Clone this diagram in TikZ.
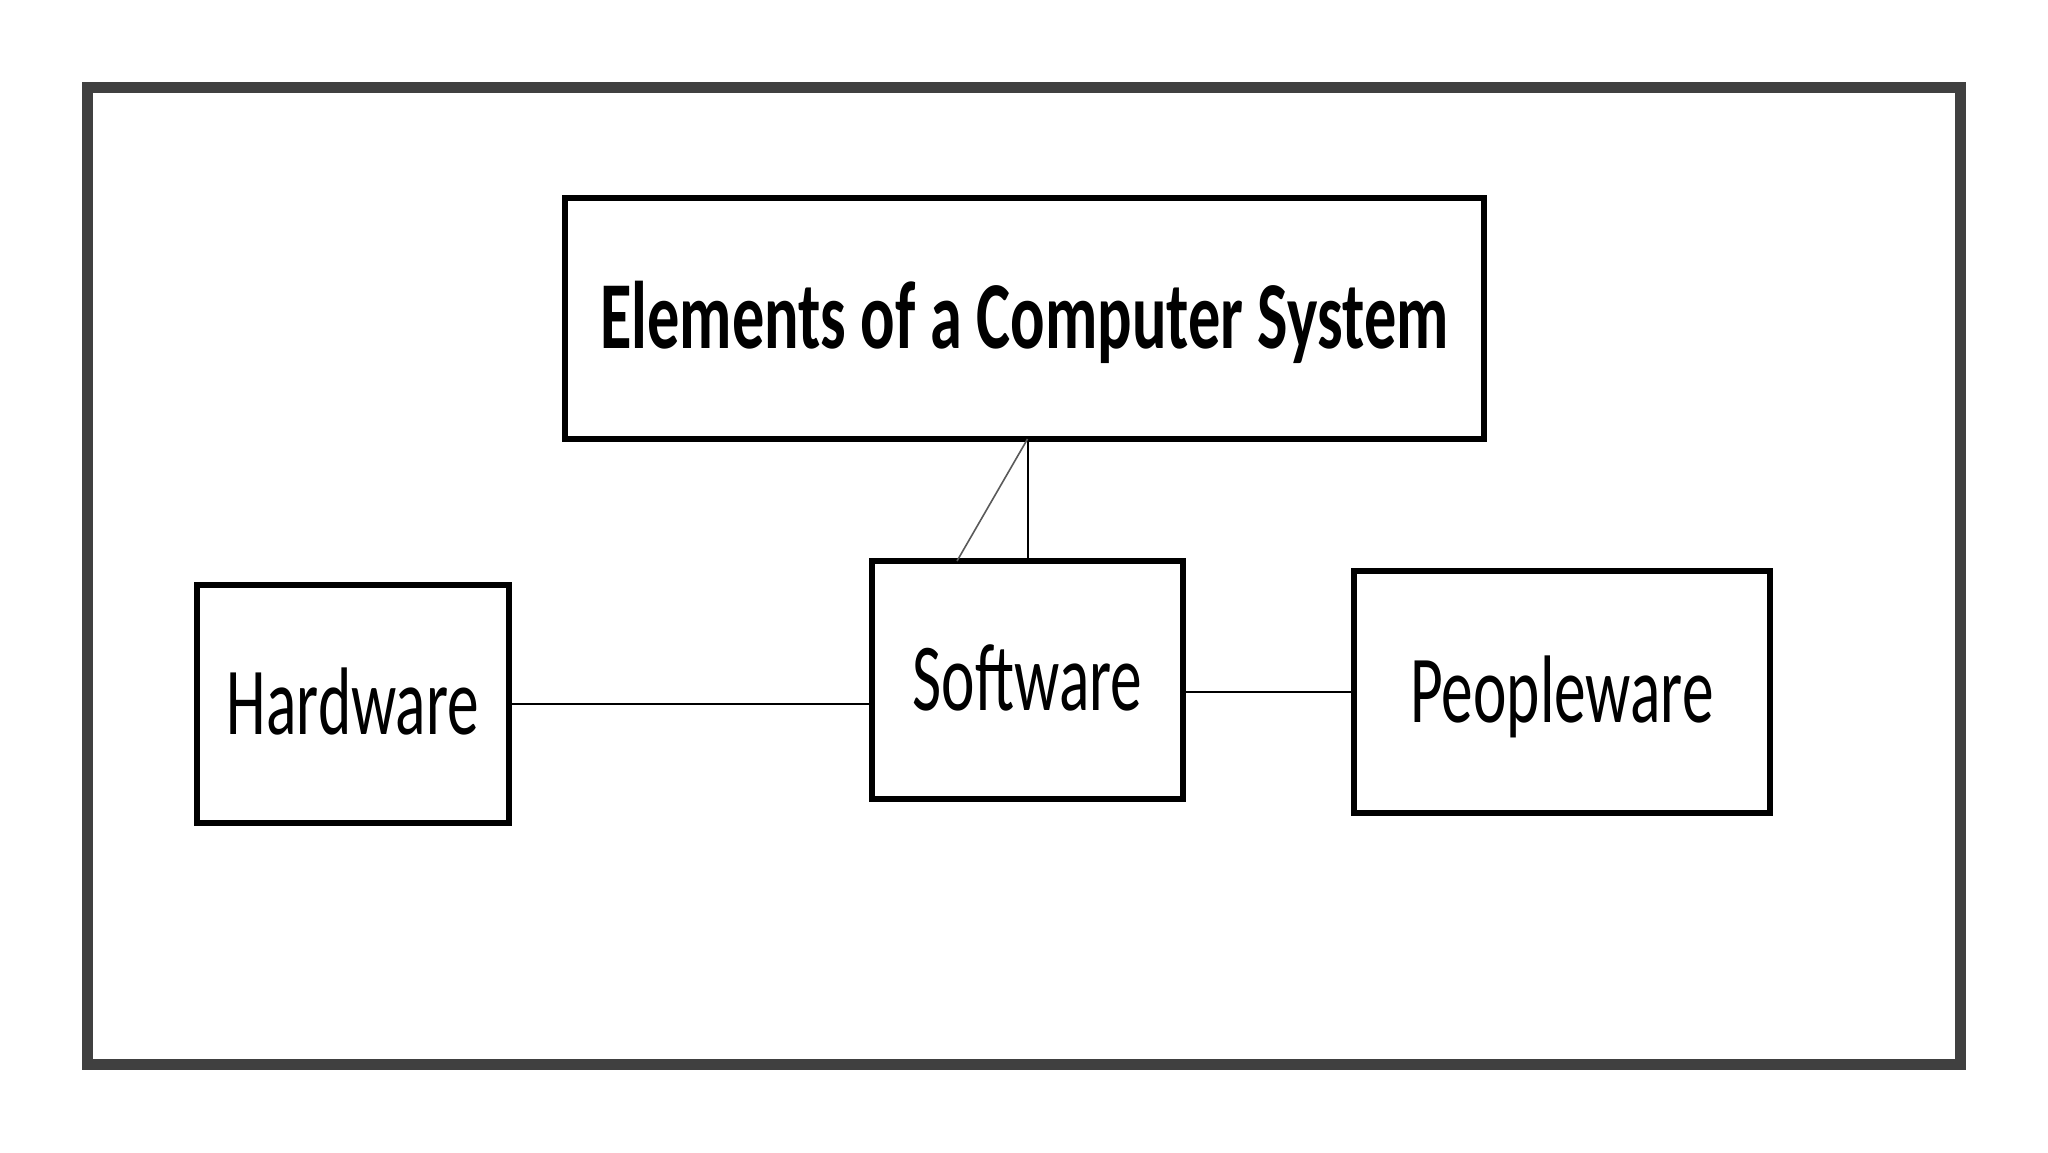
\documentclass[tikz,border=0pt]{standalone}
\usepackage{fontspec}
\setmainfont{Carlito}[FakeStretch=0.66]
\newfontfamily\titlefont{Carlito}[FakeStretch=0.67]
\usetikzlibrary{calc}
\definecolor{framegray}{HTML}{404040}
\definecolor{diaggray}{HTML}{5A5A5A}
\begin{document}
\begin{tikzpicture}[x=0.5pt,y=-0.5pt,
  box/.style={draw=black, line width=2.8pt, inner sep=0pt, outer sep=0pt,
    text height=30.2pt, text depth=0pt,
    font=\fontsize{48pt}{50pt}\selectfont},
  link/.style={draw=black, line width=1pt}]
\useasboundingbox (0,0) rectangle (2048,1152);
\fill[white] (0,0) rectangle (2048,1152);
\draw[framegray, line width=5.5pt] (87.5,87.5) rectangle (1960.5,1064);
\node[box, minimum width=459.5pt, minimum height=120.5pt,
  font=\fontsize{48pt}{50pt}\titlefont\bfseries] (title) at (1024.5,318.5) {Elements of a Computer System};
\node[box, minimum width=156pt, minimum height=119pt] (hw) at (353,704) {Hardware};
\node[box, minimum width=155.5pt, minimum height=119pt] (sw) at (1027.5,680) {Software};
\node[box, minimum width=208pt, minimum height=121pt] (pw) at (1562,692) {Peopleware};
\coordinate (diag) at ([xshift=42.5pt]sw.north west);
\draw[link] (hw.east) -- (hw.east -| sw.west);
\draw[link] (pw.west -| sw.east) -- (pw.west);
\draw[link] (sw.north) -- (sw.north |- title.south);
\draw[diaggray, line width=0.8pt] (diag) -- (sw.north |- title.south);
\end{tikzpicture}
\end{document}
